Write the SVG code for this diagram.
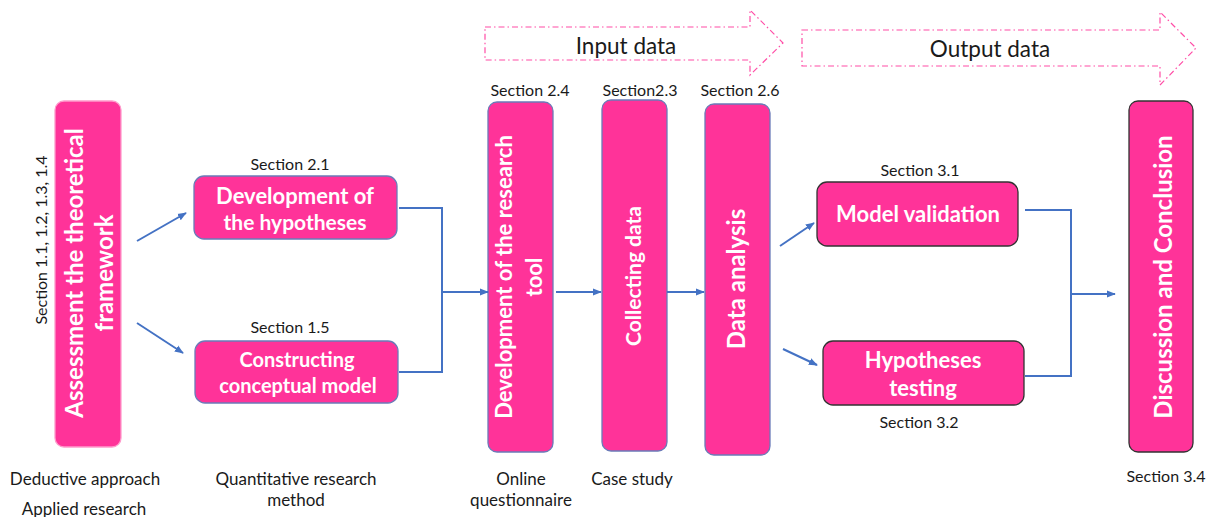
<svg xmlns="http://www.w3.org/2000/svg" width="1221" height="517" viewBox="0 0 1221 517">
<defs>
<marker id="ah" viewBox="0 0 10 10" refX="9" refY="5" markerWidth="9" markerHeight="9" markerUnits="userSpaceOnUse" orient="auto">
<path d="M0,1 L10,5 L0,9 z" fill="#4472C4"/>
</marker>
</defs>
<style>
.box{fill:#FF3399;stroke:#6b7bb8;stroke-width:1.3}
.dk{stroke:#333333}
.lp{stroke:#ff9ccc}
.wt{fill:#ffffff;font-family:Lato,"Liberation Sans",sans-serif;font-weight:bold;text-anchor:middle}
.lb{fill:#1a1a1a;font-family:Lato,"Liberation Sans",sans-serif;font-size:16px;text-anchor:middle}
.bl{font-size:17px}
.cn{fill:none;stroke:#4472C4;stroke-width:2}
.ba{fill:none;stroke:#ff4da6;stroke-width:1.2;stroke-dasharray:6 3 1.5 3}
.bt{fill:#1a1a1a;font-family:Lato,"Liberation Sans",sans-serif;font-size:22.5px;text-anchor:middle}
</style>
<g id="input-data">
<path class="ba" d="M485,27 L750,27 L750,10 L783,43 L750,75 L750,60 L485,60 Z"/>
<text class="bt" x="626" y="54">Input data</text>
</g>
<g id="output-data">
<path class="ba" d="M802,30 L1160,30 L1160,12 L1196,48 L1160,85 L1160,66 L802,66 Z"/>
<text class="bt" x="990" y="57">Output data</text>
</g>
<g id="assessment">
<rect class="box lp" x="55" y="101" width="66" height="346" rx="9"/>
<text class="wt" font-size="24" transform="translate(88,273) rotate(-90)"><tspan x="0" y="-5">Assessment the theoretical</tspan><tspan x="0" y="25">framework</tspan></text>
<text class="lb" transform="translate(47,240) rotate(-90)" x="0" y="0">Section 1.1, 1.2, 1.3, 1.4</text>
<text class="lb bl" x="85" y="485">Deductive approach</text>
<text class="lb bl" x="84" y="515">Applied research</text>
</g>
<g id="hypotheses-dev">
<rect class="box" x="194" y="176" width="203" height="63" rx="10"/>
<text class="wt" font-size="22" x="295" y="204">Development of</text>
<text class="wt" font-size="21" x="295" y="230">the hypotheses</text>
<text class="lb" x="290" y="170">Section 2.1</text>
</g>
<g id="conceptual-model">
<rect class="box" x="195" y="341" width="203" height="62" rx="10"/>
<text class="wt" font-size="20" x="297" y="367">Constructing</text>
<text class="wt" font-size="20" x="298" y="393">conceptual model</text>
<text class="lb" x="290" y="333">Section 1.5</text>
<text class="lb bl" x="296" y="485">Quantitative research</text>
<text class="lb bl" x="296" y="506">method</text>
</g>
<g id="research-tool">
<rect class="box" x="488" y="102" width="65" height="350" rx="9"/>
<text class="wt" font-size="22" transform="translate(521,277) rotate(-90)"><tspan x="0" y="-9">Development of the research</tspan><tspan x="0" y="21">tool</tspan></text>
<text class="lb" x="530" y="96">Section 2.4</text>
<text class="lb bl" x="521" y="485">Online</text>
<text class="lb bl" x="521" y="506">questionnaire</text>
</g>
<g id="collecting-data">
<rect class="box" x="602" y="100" width="65" height="351" rx="9"/>
<text class="wt" font-size="21" transform="translate(641,276) rotate(-90)" x="0" y="0">Collecting data</text>
<text class="lb" x="640" y="96">Section2.3</text>
<text class="lb bl" x="632" y="485">Case study</text>
</g>
<g id="data-analysis">
<rect class="box" x="705" y="104" width="65" height="351" rx="9"/>
<text class="wt" font-size="24" transform="translate(745,279) rotate(-90)" x="0" y="0">Data analysis</text>
<text class="lb" x="740" y="96">Section 2.6</text>
</g>
<g id="model-validation">
<rect class="box dk" x="817" y="182" width="201" height="64" rx="10"/>
<text class="wt" font-size="22" x="918" y="222">Model validation</text>
<text class="lb" x="920" y="176">Section 3.1</text>
</g>
<g id="hypotheses-testing">
<rect class="box dk" x="823" y="341" width="201" height="64" rx="10"/>
<text class="wt" font-size="22" x="923" y="368">Hypotheses</text>
<text class="wt" font-size="22" x="923" y="396">testing</text>
<text class="lb" x="919" y="428">Section 3.2</text>
</g>
<g id="discussion">
<rect class="box dk" x="1129" y="101" width="64" height="351" rx="9"/>
<text class="wt" font-size="24" transform="translate(1172,277) rotate(-90)" x="0" y="0">Discussion and Conclusion</text>
<text class="lb" x="1166" y="482">Section 3.4</text>
</g>
<g id="connectors">
<line class="cn" x1="137" y1="241" x2="186" y2="213" marker-end="url(#ah)"/>
<line class="cn" x1="137" y1="323" x2="183" y2="353" marker-end="url(#ah)"/>
<polyline class="cn" points="399,208 442,208 442,372 399,372"/>
<line class="cn" x1="442" y1="292" x2="488" y2="292" marker-end="url(#ah)"/>
<line class="cn" x1="556" y1="292" x2="601" y2="292" marker-end="url(#ah)"/>
<line class="cn" x1="667" y1="292" x2="704" y2="292" marker-end="url(#ah)"/>
<line class="cn" x1="780" y1="246" x2="814" y2="223" marker-end="url(#ah)"/>
<line class="cn" x1="783" y1="349" x2="817" y2="365" marker-end="url(#ah)"/>
<polyline class="cn" points="1025,210 1071,210 1071,376 1025,376"/>
<line class="cn" x1="1071" y1="294" x2="1115" y2="294" marker-end="url(#ah)"/>
</g>
</svg>
